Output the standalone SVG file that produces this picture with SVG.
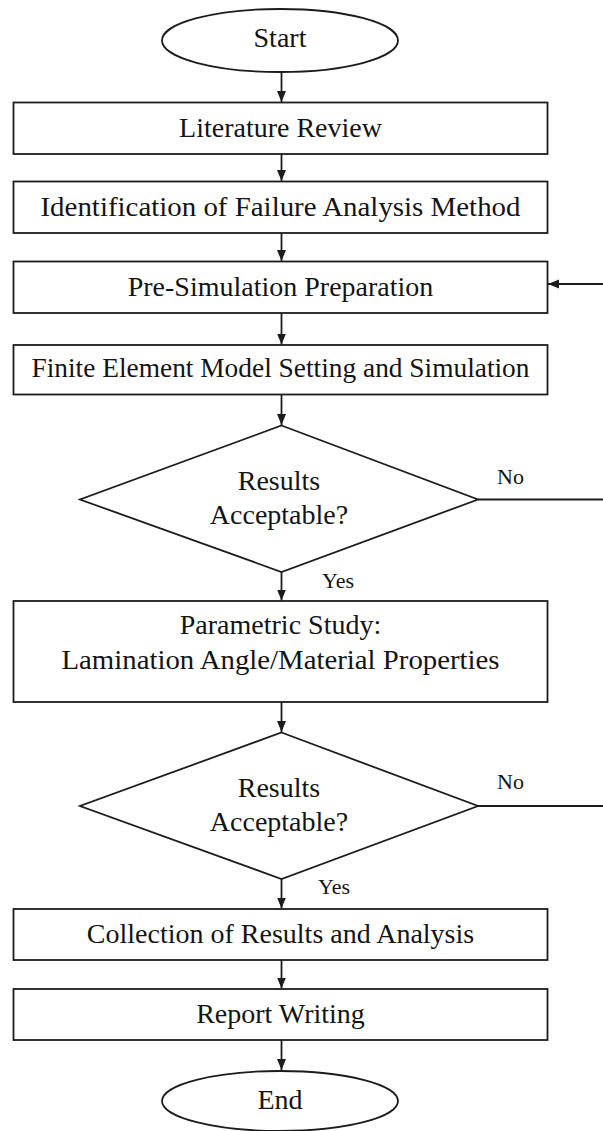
<svg xmlns="http://www.w3.org/2000/svg" width="603" height="1131" viewBox="0 0 603 1131">
<defs>
<style>
.box{fill:#fff;stroke:#1c1c1c;stroke-width:1.8}
.t{font-family:"Liberation Serif","Times New Roman",serif;font-size:28px;fill:#141414;text-anchor:middle}
.lbl{font-family:"Liberation Serif","Times New Roman",serif;font-size:22px;fill:#141414}
.edge{fill:none;stroke:#1c1c1c;stroke-width:1.8}
</style>
<marker id="ah" markerUnits="userSpaceOnUse" markerWidth="11" markerHeight="12" viewBox="0 0 11 12" refX="11" refY="6" orient="auto">
<path d="M0,1.5 L11,6 L0,10.5 Z" fill="#1c1c1c"/>
</marker>
</defs>
<rect width="603" height="1131" fill="#fff"/>
<g id="connectors">
<line class="edge" x1="281.5" y1="72" x2="281.5" y2="102" marker-end="url(#ah)"/>
<line class="edge" x1="281.5" y1="154" x2="281.5" y2="181" marker-end="url(#ah)"/>
<line class="edge" x1="281.5" y1="233" x2="281.5" y2="261" marker-end="url(#ah)"/>
<line class="edge" x1="281.5" y1="313" x2="281.5" y2="344.5" marker-end="url(#ah)"/>
<line class="edge" x1="281.5" y1="394.5" x2="281.5" y2="425" marker-end="url(#ah)"/>
<line class="edge" x1="281.5" y1="572" x2="281.5" y2="600.5" marker-end="url(#ah)"/>
<line class="edge" x1="281.5" y1="702" x2="281.5" y2="732" marker-end="url(#ah)"/>
<line class="edge" x1="281.5" y1="879" x2="281.5" y2="908.5" marker-end="url(#ah)"/>
<line class="edge" x1="281.5" y1="960" x2="281.5" y2="988.5" marker-end="url(#ah)"/>
<line class="edge" x1="281.5" y1="1040" x2="281.5" y2="1070" marker-end="url(#ah)"/>
<line class="edge" x1="603" y1="284" x2="548" y2="284" marker-end="url(#ah)"/>
<line class="edge" x1="478" y1="499.5" x2="603" y2="499.5"/>
<line class="edge" x1="478" y1="806" x2="603" y2="806"/>
<text class="lbl" x="497" y="484">No</text>
<text class="lbl" x="497" y="789">No</text>
<text class="lbl" x="322" y="588">Yes</text>
<text class="lbl" x="318" y="894">Yes</text>
</g>
<g id="start">
<ellipse class="box" cx="280" cy="40.5" rx="118" ry="31.5"/>
<text class="t" x="280" y="47">Start</text>
</g>
<g id="literature-review">
<rect class="box" x="13.5" y="102.5" width="534" height="51.5"/>
<text class="t" x="280.5" y="137">Literature Review</text>
</g>
<g id="identification">
<rect class="box" x="13.5" y="181.5" width="534" height="51.5"/>
<text class="t" x="280.5" y="216" textLength="480" lengthAdjust="spacingAndGlyphs">Identification of Failure Analysis Method</text>
</g>
<g id="pre-simulation">
<rect class="box" x="13.5" y="261.5" width="534" height="51.5"/>
<text class="t" x="280.5" y="296">Pre-Simulation Preparation</text>
</g>
<g id="fe-model">
<rect class="box" x="13.5" y="345" width="534" height="49.5"/>
<text class="t" x="280.5" y="377" textLength="498" lengthAdjust="spacingAndGlyphs">Finite Element Model Setting and Simulation</text>
</g>
<g id="decision-1">
<polygon class="box" points="281.5,425.5 478,499.5 281.5,572 80,499.5"/>
<text class="t" x="279" y="490">Results</text>
<text class="t" x="279" y="524">Acceptable?</text>
</g>
<g id="parametric-study">
<rect class="box" x="13.5" y="601" width="534" height="101"/>
<text class="t" x="280.5" y="634">Parametric Study:</text>
<text class="t" x="280.5" y="669" textLength="438" lengthAdjust="spacingAndGlyphs">Lamination Angle/Material Properties</text>
</g>
<g id="decision-2">
<polygon class="box" points="281.5,732.5 478,806 281.5,879 80,806"/>
<text class="t" x="279" y="797">Results</text>
<text class="t" x="279" y="831">Acceptable?</text>
</g>
<g id="collection">
<rect class="box" x="13.5" y="909" width="534" height="51"/>
<text class="t" x="280.5" y="943">Collection of Results and Analysis</text>
</g>
<g id="report-writing">
<rect class="box" x="13.5" y="989" width="534" height="51"/>
<text class="t" x="280.5" y="1023">Report Writing</text>
</g>
<g id="end">
<ellipse class="box" cx="280" cy="1101" rx="118" ry="30"/>
<text class="t" x="280" y="1109">End</text>
</g>
</svg>
